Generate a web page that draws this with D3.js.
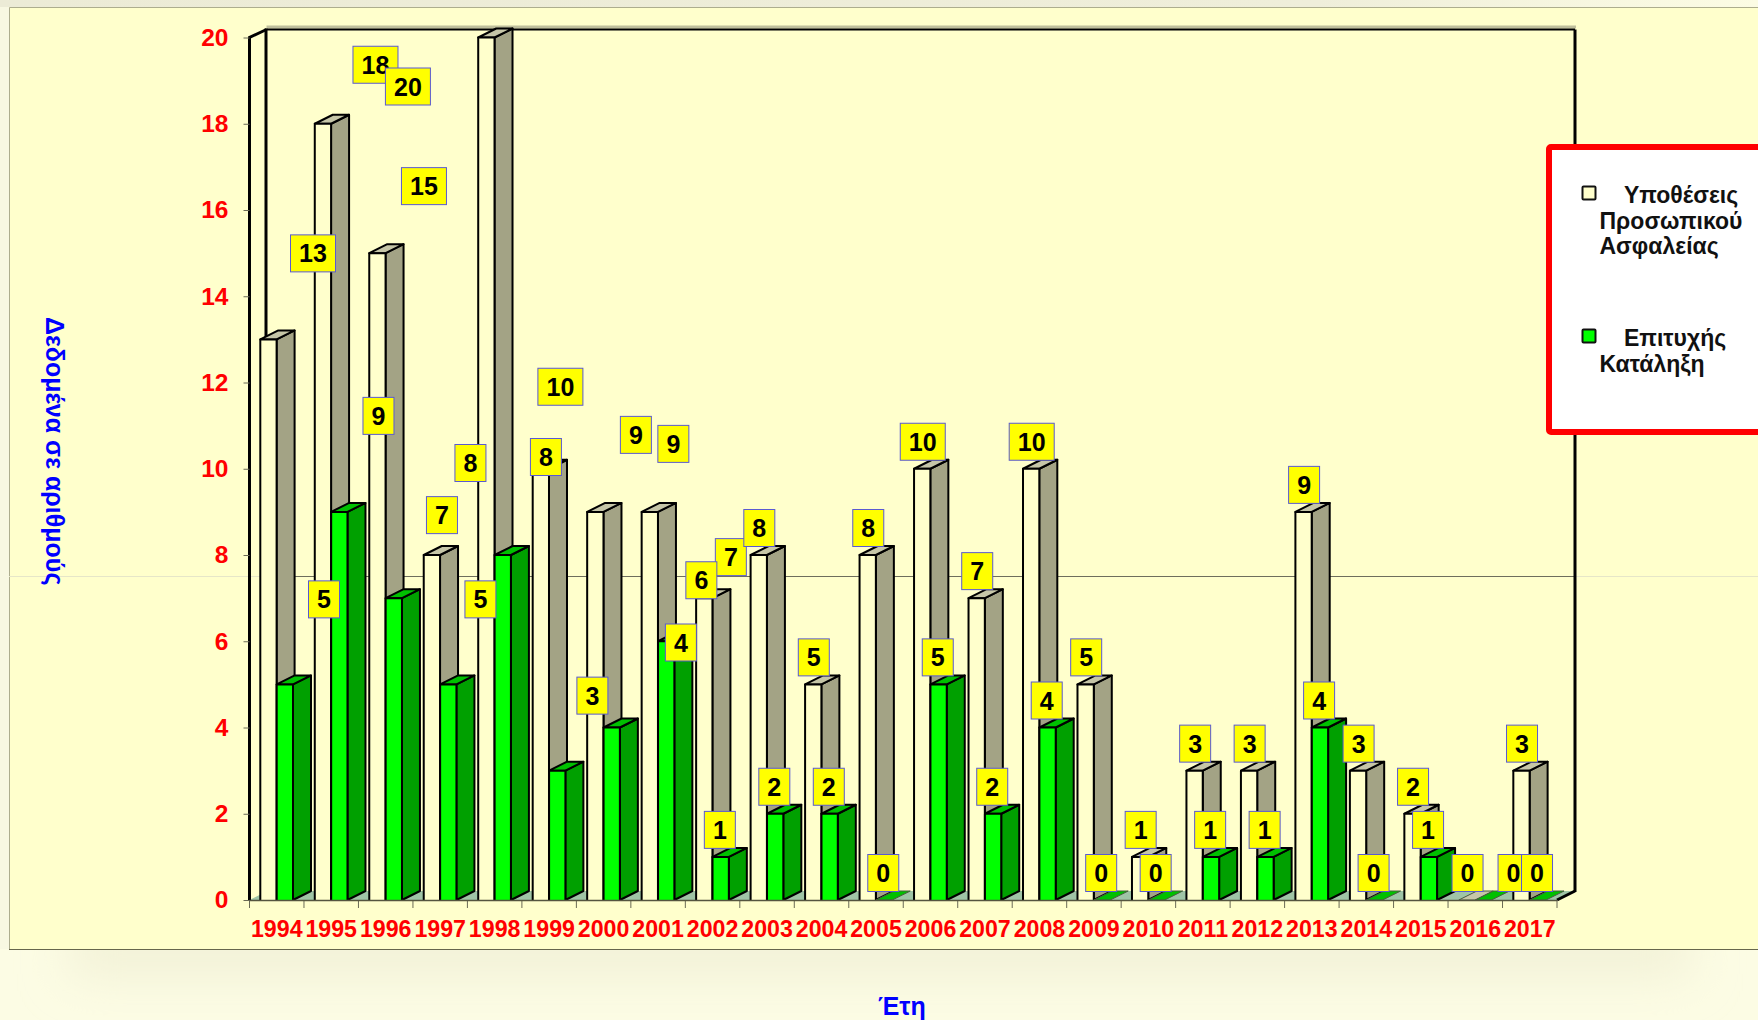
<!DOCTYPE html>
<html lang="el">
<head>
<meta charset="utf-8">
<title>Υποθέσεις Προσωπικού Ασφαλείας</title>
<script src="https://cdn.jsdelivr.net/npm/d3@7/dist/d3.min.js"></script>
<style>
html,body{margin:0;padding:0;background:#fdfde6;overflow:hidden}
svg{display:block}
text{font-family:"Liberation Sans",Arial,sans-serif;font-weight:bold}
</style>
</head>
<body>
<svg id="chart" width="1758" height="1020"></svg>
<script>
const years = ["1994","1995","1996","1997","1998","1999","2000","2001","2002","2003","2004","2005","2006","2007","2008","2009","2010","2011","2012","2013","2014","2015","2016","2017"];
const cases = [13,18,15,8,20,10,9,9,7,8,5,8,10,7,10,5,1,3,3,9,3,2,0,3];
const successes = [5,9,7,5,8,3,4,6,1,2,2,0,5,2,4,0,0,1,1,4,0,1,0,0];
const yTicks = [0,2,4,6,8,10,12,14,16,18,20];
const casesName = ["Υποθέσεις","Προσωπικού","Ασφαλείας"];
const successesName = ["Επιτυχής","Κατάληξη"];
const xTitle = "Έτη";
const yTitle = "Δεδομένα σε αριθμούς";

(function draw(){
  const W = 1758, H = 1020;
  const svg = d3.select("#chart");
  const defs = svg.append("defs");

  const topGrad = defs.append("linearGradient").attr("id","topStrip");
  topGrad.append("stop").attr("offset","0").attr("stop-color","#ecebd6");
  topGrad.append("stop").attr("offset","0.75").attr("stop-color","#efeeda");
  topGrad.append("stop").attr("offset","1").attr("stop-color","#fcfce4");
  defs.append("filter").attr("id","soft").attr("x","-10%").attr("y","-100%").attr("width","120%").attr("height","300%")
    .append("feGaussianBlur").attr("stdDeviation","24");

  // page background and panel
  svg.append("rect").attr("width",W).attr("height",H).attr("fill","#fcfce4");
  svg.append("rect").attr("x",70).attr("y",925).attr("width",1620).attr("height",50)
    .attr("fill","#f1f0d6").attr("filter","url(#soft)");
  svg.append("rect").attr("width",W).attr("height",7).attr("fill","url(#topStrip)");
  svg.append("rect").attr("x",0).attr("y",7).attr("width",9).attr("height",942).attr("fill","#f8f8e2");
  svg.append("rect").attr("x",9).attr("y",7).attr("width",W-9).attr("height",942).attr("fill","#ffffcc");
  svg.append("path").attr("d",`M${W},7.5H9.5V949`).attr("fill","none").attr("stroke","#adad8e");
  svg.append("path").attr("d",`M9,949.5H${W}`).attr("fill","none").attr("stroke","#66664c");

  // scales
  const x = d3.scaleBand().domain(years).range([249.5,1557]);
  const y = d3.scaleLinear().domain([0,20]).range([900,37.5]);
  const DX = 18, DY = 9;
  const barW = 16.3;
  const offWhite = 10.8, offGreen = 27.2;
  const x0 = x.range()[0], x1 = x.range()[1], yb = y(0), yt = y(20);

  // faint guide across the panel, darker on the back wall
  const guideY = 576.5;
  svg.append("line").attr("x1",9).attr("x2",W).attr("y1",guideY).attr("y2",guideY).attr("stroke","#e6e6c8");
  svg.append("line").attr("x1",x0+DX).attr("x2",x1+DX).attr("y1",guideY).attr("y2",guideY).attr("stroke","#6e6e5c");

  // floor
  svg.append("path")
    .attr("d",`M${x0},${yb}L${x1},${yb}L${x1+DX},${yb-DY}L${x0+DX},${yb-DY}Z`)
    .attr("fill","#9fc4a6");

  // walls
  const wall = svg.append("g").attr("fill","none").attr("stroke","#000");
  wall.append("path").attr("d",`M${x0+DX-1},${yt-10.5}H${x1+DX+1}`).attr("stroke","#bfbf9c").attr("stroke-width",3);
  wall.append("path").attr("d",`M${x0+DX-1},${yt-8}H${x1+DX}`).attr("stroke-width",2);
  wall.append("path").attr("d",`M${x0+DX-1.5},${yt-9}V${yb-DY}`).attr("stroke-width",3);
  wall.append("path").attr("d",`M${x1+DX},${yt-8}V${yb-DY+1}`).attr("stroke-width",3);
  wall.append("path").attr("d",`M${x0},${yb}V${yt}L${x0+DX-1},${yt-8}`).attr("stroke-width",3);
  wall.append("path").attr("d",`M${x1},${yb}L${x1+DX},${yb-DY}`).attr("stroke-width",3);

  // axes
  const yAxis = svg.append("g").attr("transform",`translate(${x0},0)`)
    .call(d3.axisLeft(y).tickValues(yTicks).tickSize(6).tickPadding(15).tickFormat(d3.format("d")));
  yAxis.select(".domain").remove();
  yAxis.selectAll("line").attr("stroke","#6a6a55");
  yAxis.selectAll("text").attr("fill","#ff0000").style("font-size","24.5px");

  const xAxis = svg.append("g").attr("transform",`translate(0,${yb})`)
    .call(d3.axisBottom(x).tickSize(0).tickPadding(0));
  xAxis.select(".domain").remove();
  xAxis.selectAll("line").remove();
  xAxis.selectAll("text").attr("fill","#ff0000").attr("y",36.5).attr("dy",0).style("font-size","23.2px");
  svg.append("g").selectAll("line").data(years.concat("end")).join("line")
    .attr("x1",d=>d==="end"?x1:x(d)).attr("x2",d=>d==="end"?x1:x(d))
    .attr("y1",yb).attr("y2",yb+8).attr("stroke","#6a6a55");

  // bars
  const series = [
    {values:cases, off:offWhite, front:"#ffffcc", side:"#a3a385", top:"#c6c6a8"},
    {values:successes, off:offGreen, front:"#00ff00", side:"#00a000", top:"#00c000"}
  ];
  const barsG = svg.append("g");
  years.forEach((yr,i)=>{
    series.forEach(s=>{
      const v = s.values[i], l = x(yr)+s.off, r = l+barW, t = y(v);
      const g = barsG.append("g").attr("stroke","#000").attr("stroke-width",2).attr("stroke-linejoin","round");
      if(v>0){
        g.append("path").attr("d",`M${r},${yb}L${r+DX},${yb-DY}V${t-DY}L${r},${t}Z`).attr("fill",s.side);
        g.append("path").attr("d",`M${l},${t}L${l+DX},${t-DY}H${r+DX}L${r},${t}Z`).attr("fill",s.top);
        g.append("path").attr("d",`M${l},${yb}V${t}H${r}V${yb}`).attr("fill",s.front);
      } else {
        g.attr("stroke-width",1).attr("stroke","#4a5a40");
        g.append("path").attr("d",`M${l},${yb}L${l+DX},${yb-DY}H${r+DX}L${r},${yb}Z`).attr("fill",s.top);
      }
    });
  });
  // front edge of the floor
  svg.append("line").attr("x1",x0).attr("x2",x1).attr("y1",yb+0.5).attr("y2",yb+0.5)
    .attr("stroke","#55553f").attr("stroke-width",1.5);

  // value labels: default spot above each bar, plus the manual nudges seen in the picture
  const casesNudge = {0:[44,-59],1:[52,-32],2:[46,-40],3:[38,-65],4:[-79,76],5:[19,-55],6:[40,-50],7:[23,-41],8:[26,-14]};
  const successNudge = {0:[40,-58],1:[40,-69],2:[49,-56],3:[33,-58],4:[44,-71],5:[36,-48],6:[70,-58],7:[36,-34],22:[31,0]};
  const boxH = 37;
  const boxW = d => d >= 10 ? 45 : 31;
  function labels(values, nudge, cx){
    const g = svg.append("g").selectAll("g").data(values).join("g")
      .attr("transform",(d,i)=>{
        const n = nudge[i]||[0,0];
        return `translate(${x(years[i])+cx+n[0]},${y(d)-27+n[1]})`;
      });
    g.append("rect").attr("x",d=>-boxW(d)/2).attr("y",-boxH/2).attr("width",boxW).attr("height",boxH)
      .attr("fill","#ffff00").attr("stroke","#5a5ad2").attr("stroke-width",1);
    g.append("text").attr("text-anchor","middle").attr("y",9).attr("fill","#000")
      .style("font-size","25px").text(d=>d);
  }
  labels(cases, casesNudge, 19.5);
  labels(successes, successNudge, 34.5);

  // axis titles
  svg.append("text").attr("x",878).attr("y",1015).attr("fill","#0000ff").style("font-size","25px").text(xTitle);
  svg.append("text").attr("transform","translate(46,317) rotate(90)").attr("fill","#0000ff")
    .style("font-size","25px").text(yTitle);

  // legend
  svg.append("rect").attr("x",1549).attr("y",147).attr("width",300).attr("height",285)
    .attr("fill","#ffffff").attr("stroke","#ff0000").attr("stroke-width",6).attr("rx",2);
  const leg = svg.append("g").attr("fill","#111");
  function legend(lines, color, markY, firstBase){
    leg.append("rect").attr("x",1582.5).attr("y",markY).attr("width",13).attr("height",13)
      .attr("fill",color).attr("stroke","#111").attr("stroke-width",2).attr("rx",1);
    lines.forEach((t,i)=>{
      leg.append("text").attr("x",i===0?1624:1599.5).attr("y",firstBase+i*25.7)
        .style("font-size","23px").text(t);
    });
  }
  legend(casesName,"#ffffcc",186.5,203);
  legend(successesName,"#00ff00",329.5,346);
})();
</script>
</body>
</html>
